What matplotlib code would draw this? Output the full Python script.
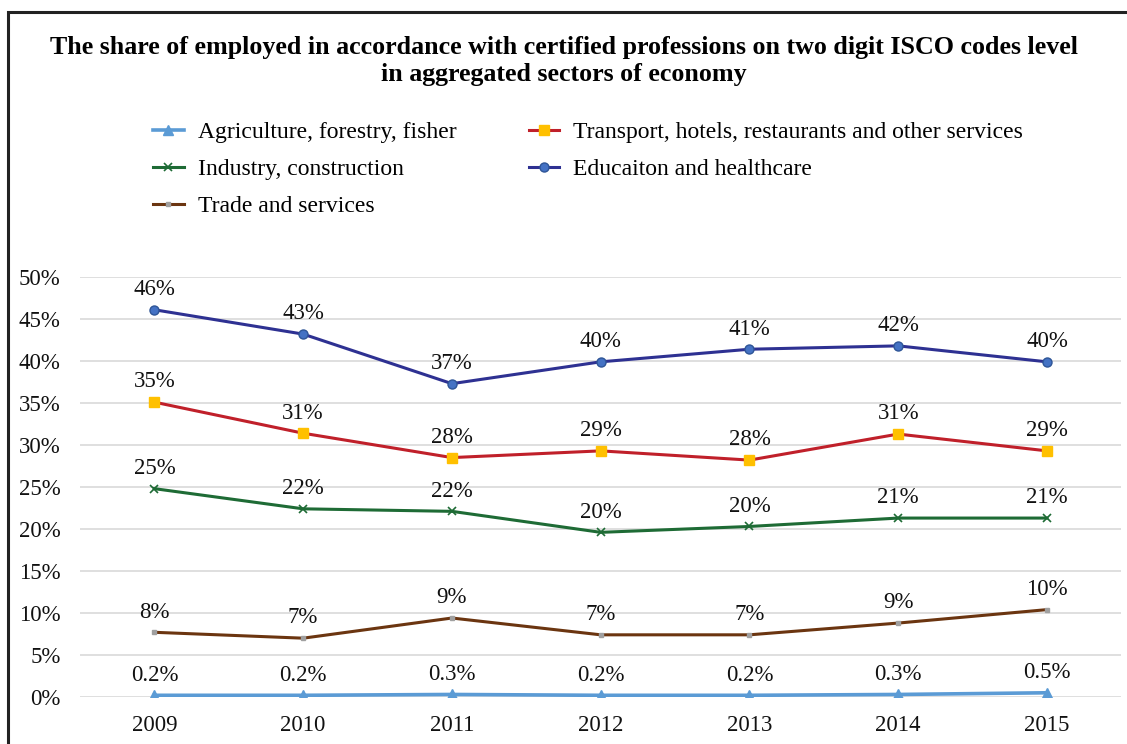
import matplotlib.pyplot as plt
from matplotlib.patches import Rectangle
from matplotlib.ticker import PercentFormatter

plt.rcParams['font.family'] = ['Liberation Serif', 'DejaVu Serif']

years = ['2009', '2010', '2011', '2012', '2013', '2014', '2015']
agriculture = [0.2, 0.2, 0.3, 0.2, 0.2, 0.3, 0.5]
transport = [35.1, 31.4, 28.5, 29.3, 28.2, 31.3, 29.3]
industry = [24.8, 22.4, 22.1, 19.6, 20.3, 21.3, 21.3]
education = [46.1, 43.2, 37.3, 39.9, 41.4, 41.8, 39.9]
trade = [7.7, 7.0, 9.4, 7.4, 7.4, 8.8, 10.4]

fig = plt.figure(figsize=(11.27, 7.44), dpi=100)
ax = fig.add_axes([0.071, 0.0632, 0.924, 0.5645])

x = range(len(years))
l_agri, = ax.plot(x, agriculture, color='#5B9BD5', lw=2.6, marker='^', ms=7,
                  label='Agriculture, forestry, fisher')
l_ind, = ax.plot(x, industry, color='#1E6B35', lw=2.2, marker='x', ms=6, mew=1.2,
                 label='Industry, construction')
l_trade, = ax.plot(x, trade, color='#6B3510', lw=2.2, marker='s', ms=3,
                   mfc='#A0A0A0', mec='#A0A0A0', label='Trade and services')
l_trans, = ax.plot(x, transport, color='#C0202A', lw=2.2, marker='s', ms=7,
                   mfc='#FFC000', mec='#FFC000',
                   label='Transport, hotels, restaurants and other services')
l_edu, = ax.plot(x, education, color='#2E3192', lw=2.2, marker='o', ms=6.5,
                 mfc='#4472C4', mec='#2E5597', label='Educaiton and healthcare')

# data labels
for series, fmt in [(agriculture, '{:.1f}%'), (industry, '{:.0f}%'), (trade, '{:.0f}%'),
                    (transport, '{:.0f}%'), (education, '{:.0f}%')]:
    for i, v in enumerate(series):
        ax.annotate(fmt.format(v), (i, v), xytext=(0, 7), textcoords='offset points',
                    ha='center', va='bottom', fontsize=16.5, color='#111111')

ax.set_xlim(-0.5, 6.5)
ax.set_ylim(0, 50)
ax.set_yticks(range(0, 51, 5))
ax.yaxis.set_major_formatter(PercentFormatter(decimals=0))
ax.set_xticks(list(x))
ax.set_xticklabels(years)
ax.tick_params(axis='both', length=0, labelsize=16.5, colors='#111111')
ax.tick_params(axis='x', pad=13)
ax.tick_params(axis='y', pad=14)
ax.grid(axis='y', color='#D9D9D9', lw=1.2)
ax.set_axisbelow(True)
for s in ax.spines.values():
    s.set_visible(False)

fig.text(0.5, 0.918, 'The share of employed in accordance with certified professions on two digit ISCO codes level\nin aggregated sectors of economy',
         ha='center', va='center', fontsize=18.7, fontweight='bold', linespacing=1.2)

fig.legend(handles=[l_agri, l_ind, l_trade, l_trans, l_edu], ncol=2,
           loc='upper left', bbox_to_anchor=(0.117, 0.865), frameon=False,
           fontsize=17, handlelength=1.3, handletextpad=0.6, columnspacing=3.05,
           labelspacing=0.65)

fig.add_artist(Rectangle((8 / 1127, -0.1), 1.2, 1.1 - 12 / 744, transform=fig.transFigure,
                         fill=False, ec='#222222', lw=2.2))

fig.savefig('out.png', dpi=100)
